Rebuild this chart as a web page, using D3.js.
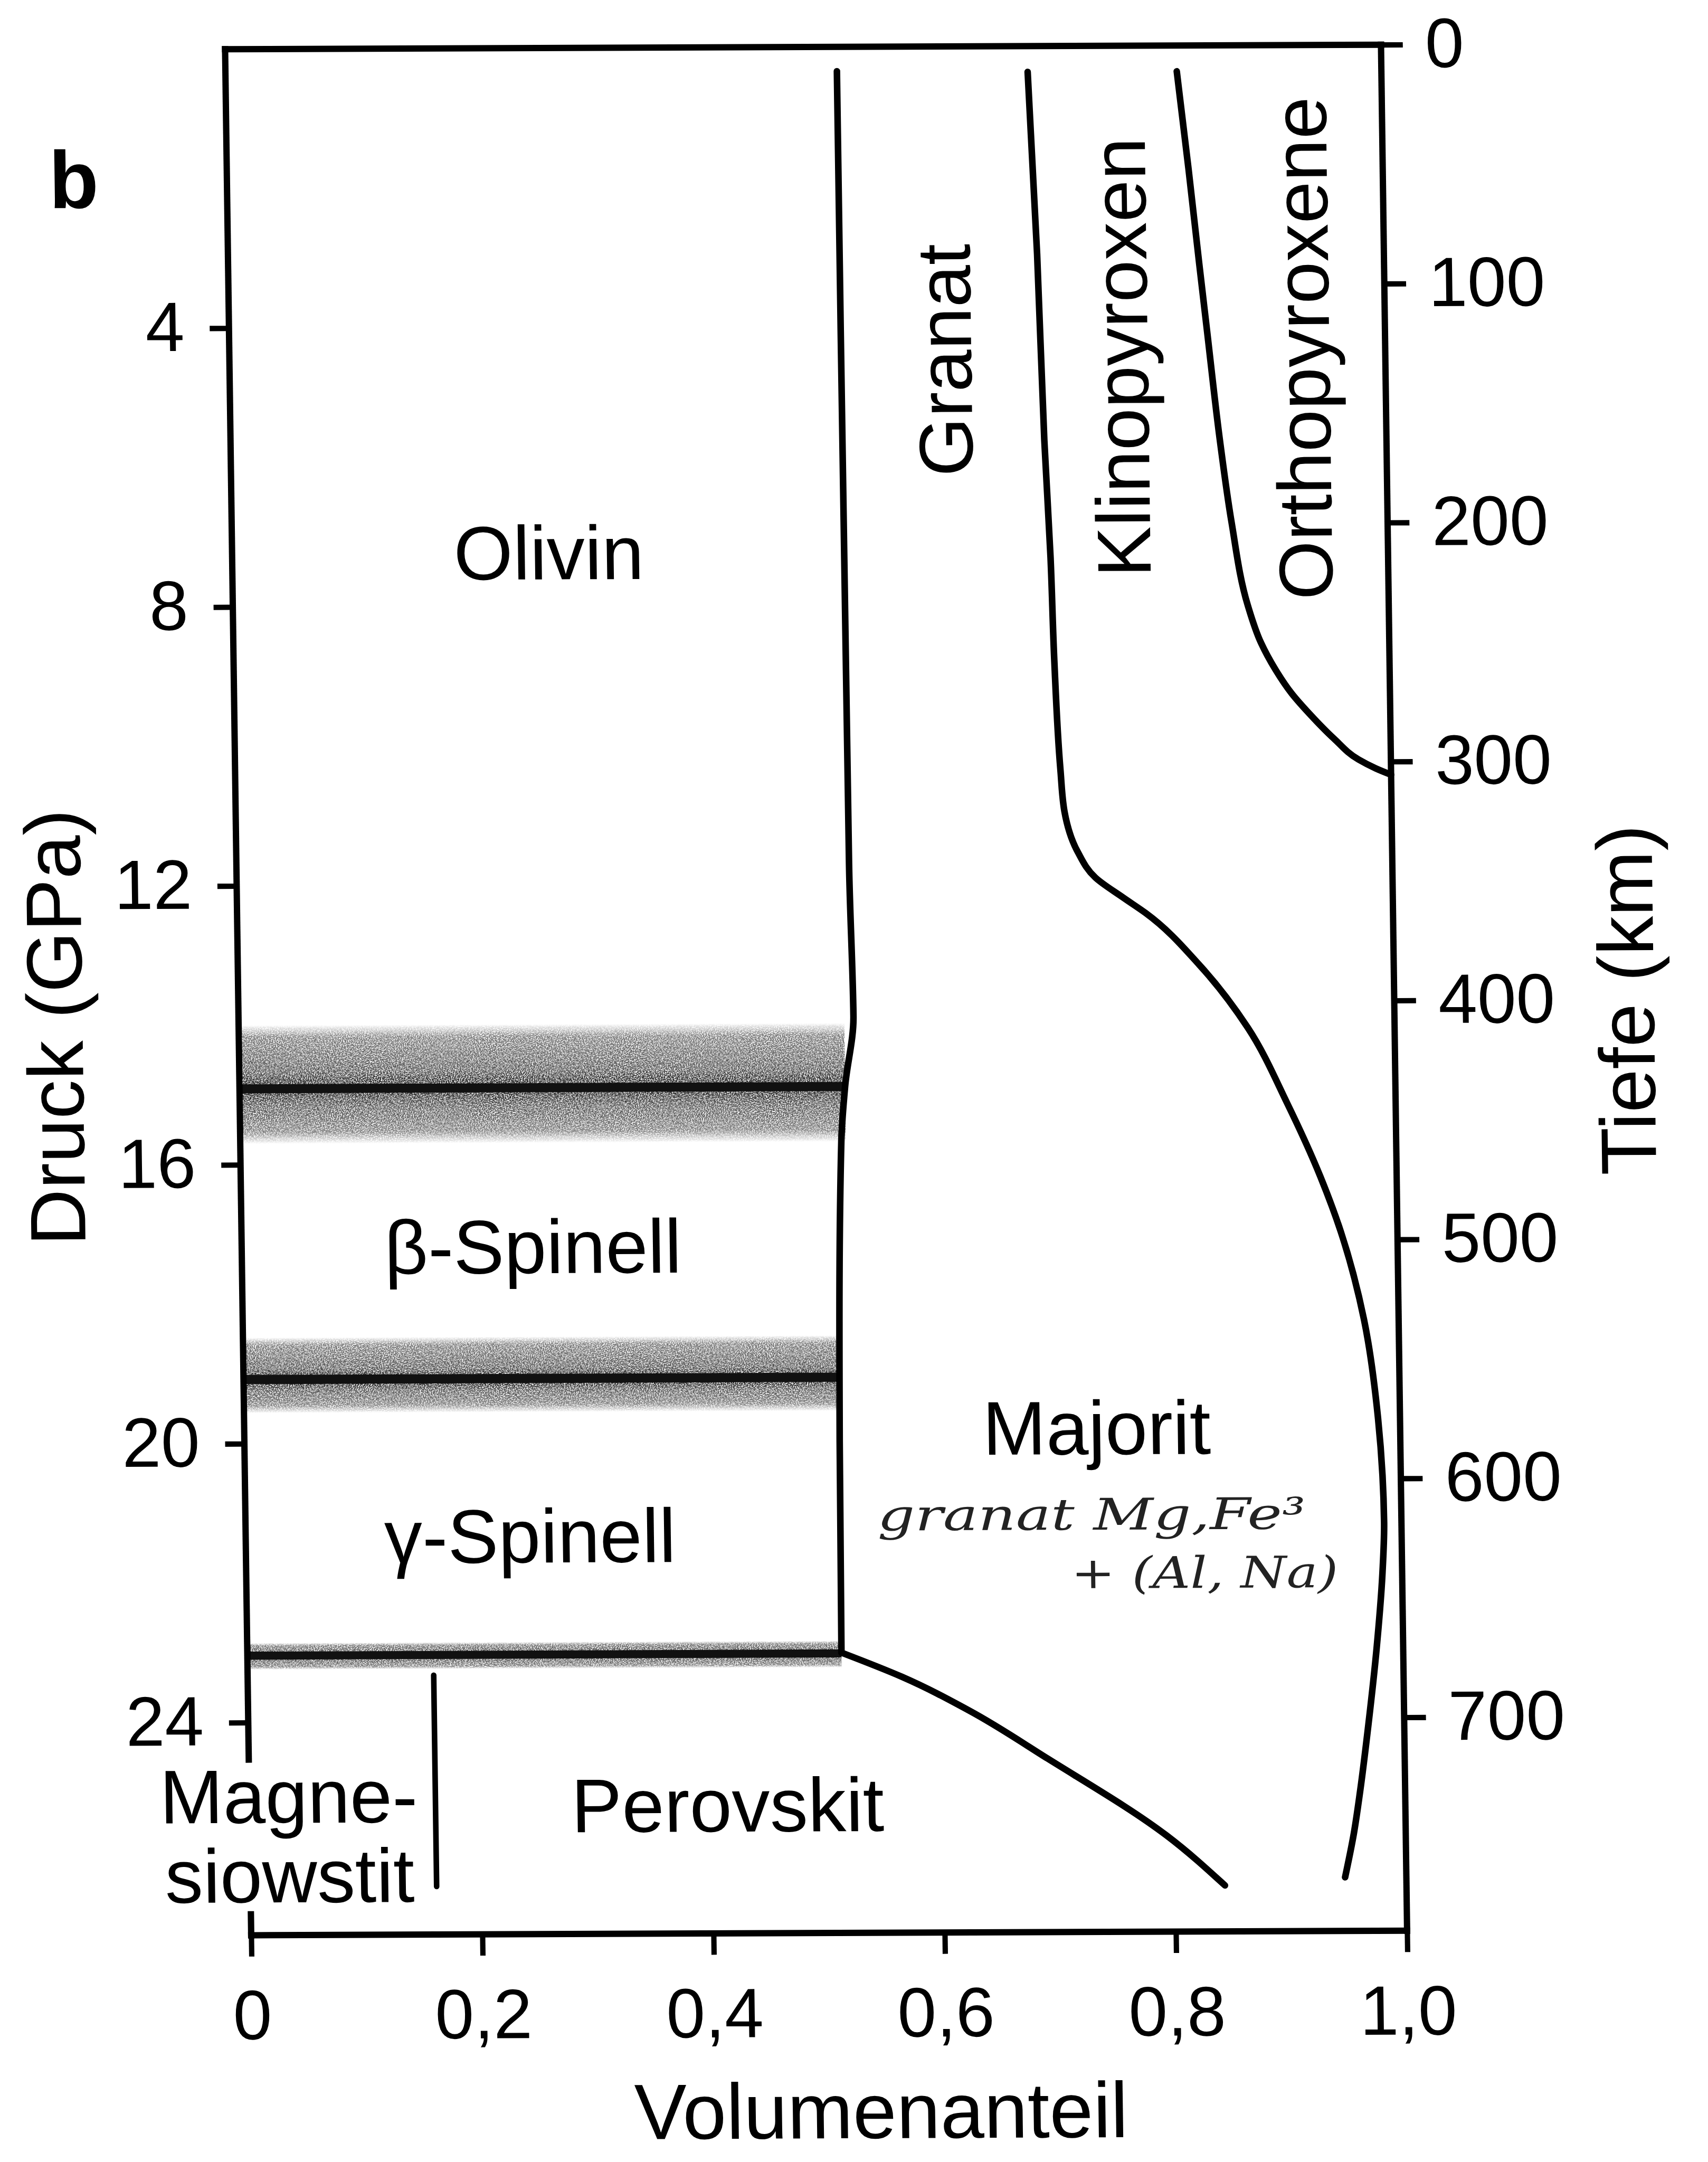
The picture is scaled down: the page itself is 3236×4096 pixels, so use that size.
<!DOCTYPE html>
<html>
<head>
<meta charset="utf-8">
<script src="https://cdn.jsdelivr.net/npm/d3@7"></script>
<style>
  html, body { margin: 0; padding: 0; background: #fff; }
  svg { display: block; }
</style>
</head>
<body>
<svg id="chart" width="3236" height="4096" viewBox="0 0 3369 4264"></svg>
<script>
// Mineral proportions of the upper mantle (pyrolite) versus pressure and depth.

// Axis ticks
const pressureTicks = [4, 8, 12, 16, 20, 24];                 // GPa, left axis
const depthTicks = [0, 100, 200, 300, 400, 500, 600, 700];     // km, right axis
const fractionTicks = [0, 0.2, 0.4, 0.6, 0.8, 1.0];            // volume fraction, bottom axis
const pressureMax = 27.05;                                      // GPa at the bottom of the frame
const depthMax = 789.3;                                         // km at the bottom of the frame
const leftAxisGap = [24.53, 26.75];                             // left axis interrupted for the label

// Phase boundaries: [pressure (GPa), cumulative volume fraction]
const olivineGarnetBoundary = [
  [0.35, 0.529], [11.7, 0.530], [13.9, 0.532], [14.9, 0.524],
  [15.7, 0.520], [20.0, 0.515], [23.03, 0.514]
];
const perovskiteMajoriteBoundary = [
  [23.03, 0.514], [23.38, 0.566], [23.87, 0.624],
  [24.56, 0.691], [25.67, 0.793], [26.39, 0.843]
];
const clinopyroxeneBoundary = [
  [0.37, 0.694], [2.98, 0.700], [5.65, 0.704], [7.34, 0.708], [8.81, 0.710],
  [10.38, 0.714], [10.98, 0.717], [11.56, 0.728], [11.93, 0.743], [12.22, 0.767],
  [12.44, 0.786], [13.19, 0.832], [14.09, 0.873], [15.17, 0.906], [16.23, 0.934],
  [17.02, 0.951], [18.28, 0.970], [19.70, 0.981], [21.19, 0.985], [21.91, 0.983],
  [23.0, 0.977], [24.09, 0.969], [25.05, 0.961], [25.66, 0.955], [26.28, 0.947]
];
const orthopyroxeneBoundary = [
  [0.37, 0.823], [1.77, 0.832], [3.11, 0.840], [4.08, 0.846], [5.68, 0.856],
  [6.84, 0.865], [8.03, 0.878], [8.57, 0.889], [8.95, 0.901], [9.30, 0.915],
  [9.59, 0.930], [9.95, 0.951], [10.25, 0.972], [10.38, 0.987], [10.47, 1.0]
];
const magnesiowustiteBoundary = [[23.33, 0.161], [26.36, 0.161]];

// Olivine polymorph transitions: [lower edge, sharp centre, upper edge] in GPa
const transitionZones = [
  [14.00, 14.91, 15.70],
  [18.48, 19.08, 19.56],
  [22.86, 23.04, 23.24]
];

// Field labels placed at [pressure, fraction]
const fieldLabels = [
  { text: "Olivin",    p: 7.62,  f: 0.274 },
  { text: "β-Spinell", p: 17.57, f: 0.252 },
  { text: "γ-Spinell", p: 21.72, f: 0.246 },
  { text: "Majorit",   p: 20.20, f: 0.7375 },
  { text: "Perovskit", p: 25.59, f: 0.4137 },
  { text: "Magne-",    p: 25.44, f: 0.034 },
  { text: "siowstit",  p: 26.58, f: 0.034 }
];
const uprightLabels = [
  { text: "Granat",        p: 4.50, f: 0.6418 },
  { text: "Klinopyroxen",  p: 4.47, f: 0.7945 },
  { text: "Orthopyroxene", p: 4.35, f: 0.9516 }
];
const noteLines = [
  { text: "granat Mg,Fe³", p: 21.28, f: 0.5466, len: 845 },
  { text: "+ (Al, Na)",    p: 22.12, f: 0.7136, len: 527 }
];

// ---------------------------------------------------------------------------
const FONT = "'Liberation Sans', Arial, Helvetica, sans-serif";
const svg = d3.select("#chart");
const defs = svg.append("defs");

// halftone grain for the transition zones
const grain = defs.append("filter").attr("id", "grain")
  .attr("x", 0).attr("y", 0).attr("width", 1).attr("height", 1);
grain.append("feTurbulence").attr("type", "fractalNoise")
  .attr("baseFrequency", 0.5).attr("numOctaves", 2).attr("seed", 4).attr("result", "noise");
grain.append("feColorMatrix").attr("in", "noise").attr("type", "matrix")
  .attr("values", "0 0 0 0 0  0 0 0 0 0  0 0 0 0 0  4.5 0 0 0 -1.6").attr("result", "mask");
grain.append("feComposite").attr("in", "SourceGraphic").attr("in2", "mask").attr("operator", "in");

const x = d3.scaleLinear().domain([0, 1]).range([444, 2724]);
const yP = d3.scaleLinear().domain([0, pressureMax]).range([97, 3817]);
const yD = d3.scaleLinear().domain([0, depthMax]).range([97, 3817]);

// the printed figure sits slightly skewed on the page
const skX = 0.01384, skY = -0.00395;
const plot = svg.append("g")
  .attr("transform", `matrix(1,${skY},${skX},1,${(-skX * yP(0)).toFixed(3)},${(-skY * x(0)).toFixed(3)})`);

const boundaryLine = d3.line()
  .x(d => x(d[1]))
  .y(d => yP(d[0]))
  .curve(d3.curveMonotoneY);
const straight = d3.line().x(d => x(d[1])).y(d => yP(d[0]));

const bisectP = d3.bisector(d => d[0]).left;
function olivineEdgeAt(p) {
  const a = olivineGarnetBoundary;
  let i = Math.max(1, Math.min(a.length - 1, bisectP(a, p)));
  const [p0, f0] = a[i - 1], [p1, f1] = a[i];
  return f0 + (f1 - f0) * (p - p0) / (p1 - p0);
}

// transition zones: grey halftone haze with a dark centre line
transitionZones.forEach((z, i) => {
  const [lo, core, hi] = z;
  const t = (core - lo) / (hi - lo);
  const grad = defs.append("linearGradient").attr("id", "zone" + i)
    .attr("x1", 0).attr("y1", 0).attr("x2", 0).attr("y2", 1);
  const stops = [
    [0, 0], [0.1, 0.6], [t - 0.14, 0.8], [t - 0.05, 1], [t, 1],
    [t + 0.05, 1], [t + 0.14, 0.8], [0.9, 0.6], [1, 0]
  ];
  stops.forEach(([o, a]) => grad.append("stop")
    .attr("offset", Math.max(0, Math.min(1, o)))
    .attr("stop-color", "#1a1a1a").attr("stop-opacity", a));
  const right = olivineEdgeAt(core);
  plot.append("rect")
    .attr("x", x(0)).attr("y", yP(lo))
    .attr("width", x(right) - x(0)).attr("height", yP(hi) - yP(lo))
    .attr("fill", `url(#zone${i})`).attr("filter", "url(#grain)");
  plot.append("line")
    .attr("x1", x(0)).attr("x2", x(right))
    .attr("y1", yP(core)).attr("y2", yP(core))
    .attr("stroke", "#111").attr("stroke-width", i === 2 ? 16 : 18);
});

// phase boundaries
[olivineGarnetBoundary, perovskiteMajoriteBoundary, clinopyroxeneBoundary, orthopyroxeneBoundary]
  .forEach(d => plot.append("path")
    .attr("d", boundaryLine(d))
    .attr("fill", "none").attr("stroke", "#000")
    .attr("stroke-width", 13).attr("stroke-linecap", "round").attr("stroke-linejoin", "round"));
plot.append("path").attr("d", straight(magnesiowustiteBoundary))
  .attr("fill", "none").attr("stroke", "#000").attr("stroke-width", 11).attr("stroke-linecap", "round");

// frame
const frame = [
  [[0, 0], [0, 1]],
  [[0, 1], [pressureMax, 1]],
  [[pressureMax, 0], [pressureMax, 1]],
  [[0, 0], [leftAxisGap[0], 0]],
  [[leftAxisGap[1], 0], [pressureMax, 0]]
];
frame.forEach(s => plot.append("path").attr("d", straight(s))
  .attr("fill", "none").attr("stroke", "#000").attr("stroke-width", 12.5).attr("stroke-linecap", "square"));

function styleAxis(sel, size) {
  sel.attr("font-family", FONT).attr("font-size", size);
  sel.select(".domain").remove();
  sel.selectAll(".tick line").attr("stroke", "#000").attr("stroke-width", 10.5);
  sel.selectAll(".tick text").attr("fill", "#000");
}

const leftAxis = plot.append("g").attr("transform", `translate(${x(0)},0)`)
  .call(d3.axisLeft(yP).tickValues(pressureTicks).tickSize(38).tickPadding(50).tickFormat(d3.format("d")));
styleAxis(leftAxis, 138);

const rightAxis = plot.append("g").attr("transform", `translate(${x(1)},0)`)
  .call(d3.axisRight(yD).tickValues(depthTicks).tickSize(43).tickPadding(44).tickFormat(d3.format("d")));
styleAxis(rightAxis, 138);

const bottomAxis = plot.append("g").attr("transform", `translate(0,${yP(pressureMax)})`)
  .call(d3.axisBottom(x).tickValues(fractionTicks).tickSize(42)
    .tickFormat(d => d === 0 ? "0" : d3.format(".1f")(d).replace(".", ",")));
styleAxis(bottomAxis, 138);
bottomAxis.selectAll(".tick text").attr("y", 205).attr("dy", 0);

// axis titles
plot.append("text").attr("transform", "translate(136,2025) rotate(-90)")
  .attr("text-anchor", "middle").attr("font-family", FONT).attr("font-size", 155)
  .text("Druck (GPa)");
plot.append("text").attr("transform", "translate(3236,1983) rotate(-90)")
  .attr("text-anchor", "middle").attr("font-family", FONT).attr("font-size", 155)
  .text("Tiefe (km)");
plot.append("text").attr("x", 1682).attr("y", 4222)
  .attr("text-anchor", "middle").attr("font-family", FONT).attr("font-size", 155)
  .text("Volumenanteil");

// panel letter
plot.append("text").attr("x", 93).attr("y", 409)
  .attr("font-family", FONT).attr("font-weight", "bold").attr("font-size", 160)
  .text("b");

// field labels
plot.selectAll("text.field").data(fieldLabels).join("text")
  .attr("class", "field")
  .attr("x", d => x(d.f)).attr("y", d => yP(d.p))
  .attr("text-anchor", "middle").attr("font-family", FONT).attr("font-size", 150)
  .text(d => d.text);

plot.selectAll("text.upright").data(uprightLabels).join("text")
  .attr("class", "upright")
  .attr("transform", d => `translate(${x(d.f)},${yP(d.p)}) rotate(-90)`)
  .attr("text-anchor", "middle").attr("font-family", FONT).attr("font-size", 150)
  .text(d => d.text);

// pencilled note on the majorite field
plot.selectAll("text.note").data(noteLines).join("text")
  .attr("class", "note")
  .attr("x", d => x(d.f)).attr("y", d => yP(d.p))
  .attr("font-family", "'DejaVu Serif', serif").attr("font-style", "italic")
  .attr("font-size", 86).attr("fill", "#222")
  .attr("textLength", d => d.len).attr("lengthAdjust", "spacingAndGlyphs")
  .text(d => d.text);
</script>
</body>
</html>
